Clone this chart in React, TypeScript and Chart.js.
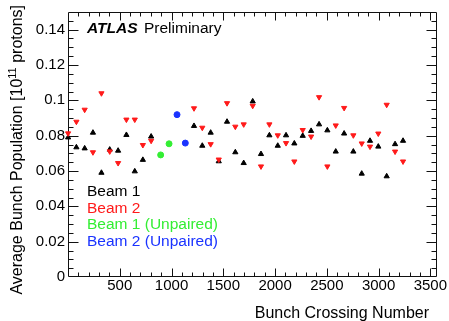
import { useEffect, useRef } from "react";
import { Chart, registerables } from "chart.js";

Chart.register(...registerables);

// Bunch crossing numbers of the colliding (paired) bunches
const pairedBunches = [
  1, 81, 161, 241, 323, 403, 484, 564, 645, 723, 803, 1217, 1297, 1378, 1456, 1536, 1616,
  1697, 1784, 1864, 1945, 2026, 2106, 2186, 2267, 2348, 2425, 2505, 2586, 2667, 2756, 2837,
  2917, 2997, 3078, 3159, 3236,
];

// Average bunch population, 10^11 protons
const beam1Population = [
  0.079, 0.0734, 0.0728, 0.0817, 0.059, 0.0721, 0.0715, 0.0804, 0.0598, 0.0663, 0.0795,
  0.0855, 0.0743, 0.0817, 0.0655, 0.0879, 0.0706, 0.0645, 0.0994, 0.0696, 0.0802, 0.0743,
  0.0802, 0.0756, 0.0799, 0.0827, 0.0864, 0.083, 0.071, 0.0812, 0.071, 0.0585, 0.0771,
  0.0738, 0.057, 0.0752, 0.0771,
];

const beam2Population = [
  0.0813, 0.0879, 0.0947, 0.0706, 0.104, 0.0711, 0.0645, 0.0891, 0.0891, 0.0747, 0.0771,
  0.0955, 0.0845, 0.0752, 0.0665, 0.0984, 0.0851, 0.0864, 0.0969, 0.0626, 0.0864, 0.0802,
  0.0758, 0.0654, 0.0832, 0.0795, 0.1018, 0.0626, 0.0858, 0.0957, 0.0802, 0.0756, 0.0738,
  0.0812, 0.0975, 0.071, 0.0654,
];

// Unpaired bunches
const beam1UnpairedBunches = [895, 976];
const beam1UnpairedPopulation = [0.0691, 0.0754];
const beam2UnpairedBunches = [1053, 1133];
const beam2UnpairedPopulation = [0.0919, 0.0758];

// Axis ticks
const xTickValues = [500, 1000, 1500, 2000, 2500, 3000, 3500];
const yTickValues = [0, 0.02, 0.04, 0.06, 0.08, 0.1, 0.12, 0.14];

const X_MIN = 0;
const X_MAX = 3564;
const Y_MIN = 0;
const Y_MAX = 0.15;

const FONT = '"Liberation Sans", Arial, Helvetica, sans-serif';

const BLACK = "#000000";
const RED = "#ff1a1a";
const GREEN = "#33ee33";
const BLUE = "#1a33ff";

const legendEntries = [
  { text: "Beam 1", color: BLACK },
  { text: "Beam 2", color: RED },
  { text: "Beam 1 (Unpaired)", color: GREEN },
  { text: "Beam 2 (Unpaired)", color: BLUE },
];

const toPoints = (xs: number[], ys: number[]) => xs.map((x, i) => ({ x, y: ys[i] }));

// Frame with inward ticks on all four sides
const framePlugin = {
  id: "frameTicks",
  beforeDatasetsDraw(chart: any) {
    const { ctx, chartArea } = chart;
    const xs = chart.scales.x;
    const ys = chart.scales.y;
    const l = Math.round(chartArea.left) + 0.5;
    const r = Math.round(chartArea.right) - 0.5;
    const t = Math.round(chartArea.top) + 0.5;
    const b = Math.round(chartArea.bottom) - 0.5;
    ctx.save();
    ctx.strokeStyle = "#111";
    ctx.lineWidth = 1;
    ctx.beginPath();
    ctx.rect(l, t, r - l, b - t);
    // x ticks: major every 500, minor every 100
    for (let v = 100; v < X_MAX; v += 100) {
      const major = v % 500 === 0;
      const len = major ? 8 : 4;
      const px = Math.round(xs.getPixelForValue(v)) + 0.5;
      ctx.moveTo(px, b);
      ctx.lineTo(px, b - len);
      ctx.moveTo(px, t);
      ctx.lineTo(px, t + len);
    }
    // y ticks: major every 0.02, minor every 0.005
    for (let i = 1; i < 30; i++) {
      const v = i * 0.005;
      const major = i % 4 === 0;
      const len = major ? 10 : 5;
      const py = Math.round(ys.getPixelForValue(v)) + 0.5;
      ctx.moveTo(l, py);
      ctx.lineTo(l + len, py);
      ctx.moveTo(r, py);
      ctx.lineTo(r - len, py);
    }
    ctx.stroke();
    ctx.restore();
  },
  afterDraw(chart: any) {
    const { ctx } = chart;
    ctx.save();
    ctx.textBaseline = "alphabetic";

    // ATLAS label
    ctx.fillStyle = BLACK;
    ctx.textAlign = "left";
    ctx.font = `italic bold 15.5px ${FONT}`;
    ctx.fillText("ATLAS", 87, 32.5);
    ctx.font = `15.5px ${FONT}`;
    ctx.fillText("Preliminary", 144, 32.5);

    // Legend (text only)
    legendEntries.forEach((e, i) => {
      ctx.fillStyle = e.color;
      ctx.font = `15.5px ${FONT}`;
      ctx.fillText(e.text, 87, 196 + i * 16.7);
    });

    // x-axis title, right aligned
    ctx.fillStyle = BLACK;
    ctx.font = `16px ${FONT}`;
    ctx.textAlign = "right";
    ctx.fillText("Bunch Crossing Number", 429, 318);

    // y-axis title, rotated, aligned to the top end
    const main = "Average Bunch Population [10";
    const sup = "11";
    const tail = " protons]";
    ctx.font = `16px ${FONT}`;
    const wMain = ctx.measureText(main).width;
    const wTail = ctx.measureText(tail).width;
    ctx.font = `11px ${FONT}`;
    const wSup = ctx.measureText(sup).width;
    const total = wMain + wSup + wTail;
    ctx.translate(22, 5);
    ctx.rotate(-Math.PI / 2);
    ctx.textAlign = "left";
    ctx.font = `16px ${FONT}`;
    ctx.fillText(main, -total, 0);
    ctx.font = `11px ${FONT}`;
    ctx.fillText(sup, -total + wMain, -6);
    ctx.font = `16px ${FONT}`;
    ctx.fillText(tail, -total + wMain + wSup, 0);
    ctx.restore();
  },
};

export default function App() {
  const canvasRef = useRef<HTMLCanvasElement | null>(null);

  useEffect(() => {
    if (!canvasRef.current) return;
    const markerBase = { borderWidth: 1, pointRadius: 3, pointHoverRadius: 3, clip: false as any };
    const chart = new Chart(canvasRef.current, {
      type: "scatter",
      data: {
        datasets: [
          {
            label: "Beam 2",
            data: toPoints(pairedBunches, beam2Population),
            pointStyle: "triangle",
            rotation: 180,
            backgroundColor: RED,
            borderColor: RED,
            order: 1,
            ...markerBase,
          },
          {
            label: "Beam 1",
            data: toPoints(pairedBunches, beam1Population),
            pointStyle: "triangle",
            backgroundColor: BLACK,
            borderColor: BLACK,
            order: 2,
            ...markerBase,
          },
          {
            label: "Beam 1 (Unpaired)",
            data: toPoints(beam1UnpairedBunches, beam1UnpairedPopulation),
            pointStyle: "circle",
            backgroundColor: GREEN,
            borderColor: GREEN,
            order: 3,
            ...markerBase,
          },
          {
            label: "Beam 2 (Unpaired)",
            data: toPoints(beam2UnpairedBunches, beam2UnpairedPopulation),
            pointStyle: "circle",
            backgroundColor: BLUE,
            borderColor: BLUE,
            order: 4,
            ...markerBase,
          },
        ],
      },
      options: {
        responsive: false,
        animation: false,
        events: [],
        layout: { padding: { top: 7, right: 12, left: 0, bottom: 0 } },
        plugins: {
          legend: { display: false },
          tooltip: { enabled: false },
          title: { display: false },
        },
        scales: {
          x: {
            type: "linear",
            min: X_MIN,
            max: X_MAX,
            grid: { display: false, drawTicks: false },
            border: { display: false },
            afterBuildTicks: (scale: any) => {
              scale.ticks = xTickValues.map((value) => ({ value }));
            },
            afterFit: (scale: any) => {
              scale.height = 44;
            },
            ticks: {
              autoSkip: false,
              maxRotation: 0,
              padding: 0,
              color: BLACK,
              font: { family: FONT, size: 15 },
              callback: (v: any) => String(v),
            },
          },
          y: {
            type: "linear",
            min: Y_MIN,
            max: Y_MAX,
            grid: { display: false, drawTicks: false },
            border: { display: false },
            afterBuildTicks: (scale: any) => {
              scale.ticks = yTickValues.map((value) => ({ value }));
            },
            afterFit: (scale: any) => {
              scale.width = 68;
            },
            ticks: {
              autoSkip: false,
              padding: 3,
              color: BLACK,
              font: { family: FONT, size: 15 },
              callback: (v: any) => (Number(v) === 0 ? "0" : String(+Number(v).toFixed(2))),
            },
          },
        },
      },
      plugins: [framePlugin],
    });
    return () => chart.destroy();
  }, []);

  return (
    <div style={{ position: "absolute", left: 0, top: 0, width: 449, height: 321, background: "#fff" }}>
      <canvas ref={canvasRef} width={449} height={321} style={{ display: "block" }} />
    </div>
  );
}
